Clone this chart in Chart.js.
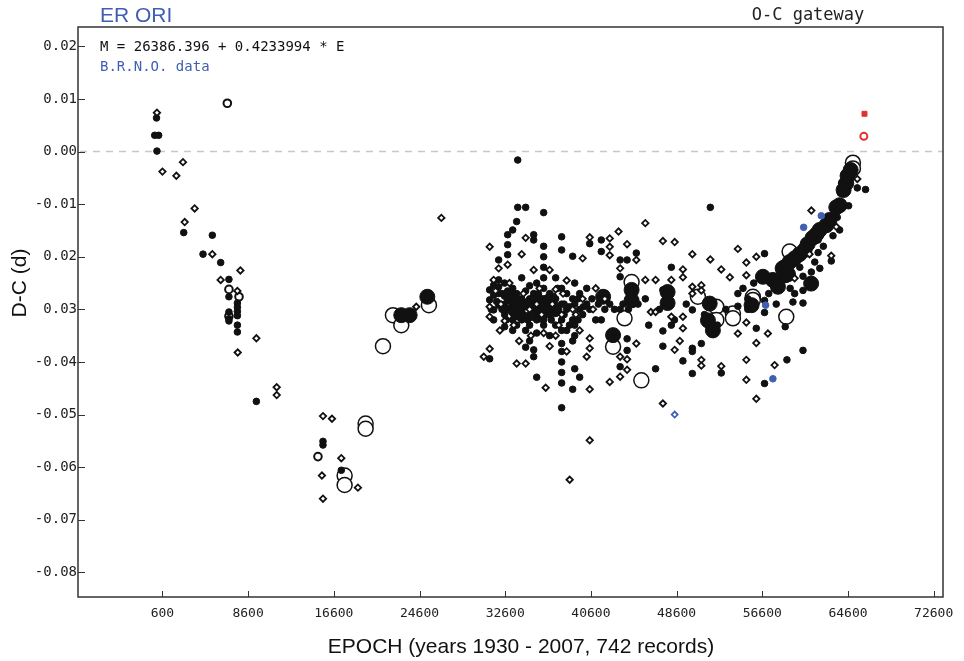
<!DOCTYPE html>
<html>
<head>
<meta charset="utf-8">
<title>ER ORI O-C</title>
<script src="https://cdn.jsdelivr.net/npm/chart.js@4.4.1/dist/chart.umd.min.js"></script>
<style>
  html, body { margin: 0; padding: 0; background: #fff; }
  #wrap { width: 964px; height: 661px; }
</style>
</head>
<body>
<div id="wrap"><canvas id="oc" width="964" height="661"></canvas></div>
<script>
// axis ticks, as printed on the reference
const xTickValues = [600, 8600, 16600, 24600, 32600, 40600, 48600, 56600, 64600, 72600];
const xTickLabels = ['600', '8600', '16600', '24600', '32600', '40600', '48600', '56600', '64600', '72600'];
const yTickValues = [0.02, 0.01, 0, -0.01, -0.02, -0.03, -0.04, -0.05, -0.06, -0.07, -0.08];
const yTickLabels = ['0.02', '0.01', '0.00', '-0.01', '0.02', '0.03', '-0.04', '-0.05', '-0.06', '-0.07', '-0.08'];

// [epoch, D-C] pairs
// small open diamonds
const visualPoints = [
    [90, 0.0074], [600, -0.0038], [1900, -0.0046], [2520, -0.0020], [3610, -0.0108], [2680, -0.0134],
    [5260, -0.0195], [7880, -0.0226], [6040, -0.0244], [7600, -0.0265], [9370, -0.0355], [7630, -0.0382],
    [11270, -0.0448], [11270, -0.0463], [15590, -0.0503], [16430, -0.0508], [17300, -0.0583], [15490, -0.0616],
    [18850, -0.0639], [15590, -0.0660], [26640, -0.0126], [24300, -0.0295],
    [31150, -0.0181], [31150, -0.0295], [31150, -0.0314], [31150, -0.0375], [30600, -0.0390], [31520, -0.0244],
    [31990, -0.0222], [32550, -0.0322], [32830, -0.0215], [33670, -0.0403], [34140, -0.0195], [34510, -0.0164],
    [34510, -0.0403], [34880, -0.0300], [35260, -0.0225], [35540, -0.0290], [36190, -0.0345], [36380, -0.0449],
    [36750, -0.0225], [36750, -0.0370], [37310, -0.0262], [37310, -0.0350], [37870, -0.0310], [38340, -0.0245],
    [38340, -0.0380], [38620, -0.0624], [38900, -0.0300], [39550, -0.0340], [39830, -0.0203], [39830, -0.0280],
    [40210, -0.0390], [40490, -0.0163], [40490, -0.0355], [40490, -0.0374], [40490, -0.0452], [40490, -0.0549],
    [41050, -0.0260], [41900, -0.0280], [42360, -0.0165], [42360, -0.0181], [42360, -0.0197], [42360, -0.0438],
    [43180, -0.0152], [43330, -0.0222], [43330, -0.0390], [43330, -0.0428], [43980, -0.0176], [43980, -0.0395],
    [43980, -0.0415], [44840, -0.0206], [44840, -0.0365], [45680, -0.0136], [45680, -0.0244], [46200, -0.0305],
    [46640, -0.0244], [46640, -0.0305], [47320, -0.0170], [47320, -0.0479], [48110, -0.0244], [48110, -0.0314],
    [48420, -0.0172], [48420, -0.0377], [48900, -0.0360], [49190, -0.0224], [49190, -0.0239], [49190, -0.0314],
    [49190, -0.0336], [50070, -0.0195], [50070, -0.0257], [50070, -0.0270], [50910, -0.0254], [50910, -0.0264],
    [50910, -0.0396], [50910, -0.0407], [51750, -0.0205], [52770, -0.0224], [52770, -0.0408], [53570, -0.0239],
    [54320, -0.0185], [54320, -0.0346], [55110, -0.0211], [55110, -0.0235], [55110, -0.0325], [55110, -0.0396],
    [55110, -0.0434], [56040, -0.0200], [56040, -0.0364], [56040, -0.0470], [57120, -0.0346], [57750, -0.0406],
    [59620, -0.0241], [61010, -0.0195], [61180, -0.0112], [63040, -0.0198], [63510, -0.0143], [65470, -0.0052],
    [32200, -0.0290], [33000, -0.0250], [33400, -0.0330], [34300, -0.0270], [35000, -0.0350], [35800, -0.0260],
    [36000, -0.0310], [37000, -0.0290], [37600, -0.0330], [38000, -0.0270], [39200, -0.0310], [40800, -0.0300],
    [32100, -0.0340], [33900, -0.0360], [31700, -0.0265]
];
// small filled marks
const filledPoints = [
    [50, 0.0064], [-120, 0.0031], [250, 0.0031], [90, 0.0001], [2590, -0.0154], [5260, -0.0159], [4390, -0.0195],
    [6040, -0.0211], [6810, -0.0243], [6810, -0.0276], [6810, -0.0305], [6810, -0.0318], [6810, -0.0322],
    [7600, -0.0288], [7600, -0.0296], [7600, -0.0304], [7600, -0.0312], [7600, -0.0330], [7600, -0.0343],
    [9370, -0.0475], [15590, -0.0551], [15590, -0.0558], [17300, -0.0606],
    [31150, -0.0263], [31150, -0.0282], [31150, -0.0394], [31520, -0.0254], [31520, -0.0273], [31520, -0.0301],
    [31520, -0.0320], [31990, -0.0206], [31990, -0.0244], [31990, -0.0257], [31990, -0.0270], [31990, -0.0292],
    [32550, -0.0333], [32550, -0.0275], [32550, -0.0290], [32550, -0.0310], [32550, -0.0250], [32830, -0.0158],
    [32830, -0.0177], [32830, -0.0196], [32830, -0.0283], [32830, -0.0300], [32830, -0.0265], [33300, -0.0149],
    [33300, -0.0260], [33300, -0.0290], [33300, -0.0320], [33300, -0.0305], [33300, -0.0340], [33670, -0.0133],
    [33670, -0.0270], [33670, -0.0285], [33670, -0.0310], [33670, -0.0330], [33770, -0.0016], [33770, -0.0106],
    [34140, -0.0240], [34140, -0.0300], [34140, -0.0320], [34140, -0.0280], [34510, -0.0106], [34510, -0.0372],
    [34510, -0.0265], [34510, -0.0295], [34510, -0.0340], [34880, -0.0280], [34880, -0.0310], [34880, -0.0255],
    [34880, -0.0330], [34880, -0.0360], [35260, -0.0158], [35260, -0.0168], [35260, -0.0377], [35260, -0.0390],
    [35260, -0.0270], [35260, -0.0300], [35540, -0.0429], [35540, -0.0250], [35540, -0.0320], [35540, -0.0345],
    [36190, -0.0116], [36190, -0.0180], [36190, -0.0200], [36190, -0.0220], [36190, -0.0240], [36190, -0.0260],
    [36190, -0.0280], [36190, -0.0300], [36190, -0.0320], [36190, -0.0330], [36750, -0.0270], [36750, -0.0310],
    [36750, -0.0350], [36750, -0.0290], [37310, -0.0240], [37310, -0.0300], [37310, -0.0280], [37310, -0.0330],
    [37870, -0.0162], [37870, -0.0187], [37870, -0.0365], [37870, -0.0380], [37870, -0.0400], [37870, -0.0420],
    [37870, -0.0440], [37870, -0.0487], [37870, -0.0260], [37870, -0.0290], [37870, -0.0320], [37870, -0.0340],
    [38340, -0.0270], [38340, -0.0300], [38340, -0.0340], [38900, -0.0199], [38900, -0.0452], [38900, -0.0280],
    [38900, -0.0320], [38900, -0.0360], [39090, -0.0413], [39090, -0.0250], [39090, -0.0290], [39090, -0.0330],
    [39090, -0.0350], [39550, -0.0429], [39550, -0.0300], [39550, -0.0270], [39830, -0.0310], [40210, -0.0290],
    [40210, -0.0260], [40490, -0.0175], [40490, -0.0300], [41050, -0.0320], [41570, -0.0168], [41570, -0.0190],
    [41570, -0.0320], [41900, -0.0300], [42360, -0.0290], [43330, -0.0206], [43330, -0.0238], [43330, -0.0409],
    [43330, -0.0300], [43980, -0.0206], [43980, -0.0356], [43980, -0.0378], [44840, -0.0193], [45680, -0.0280],
    [46640, -0.0413], [47320, -0.0263], [47320, -0.0341], [47320, -0.0370], [48110, -0.0220], [48110, -0.0330],
    [49190, -0.0398], [50070, -0.0301], [50070, -0.0374], [50070, -0.0380], [50070, -0.0422], [50910, -0.0365],
    [51750, -0.0106], [52770, -0.0421], [54320, -0.0270], [54320, -0.0294], [55250, -0.0280], [55250, -0.0300],
    [56040, -0.0336], [56810, -0.0194], [56810, -0.0283], [56810, -0.0306], [56810, -0.0441], [58500, -0.0213],
    [58500, -0.0230], [58500, -0.0244], [58740, -0.0333], [58900, -0.0396], [59460, -0.0286], [59620, -0.0270],
    [59780, -0.0200], [60400, -0.0237], [60400, -0.0264], [60400, -0.0288], [60400, -0.0378], [60710, -0.0181],
    [61180, -0.0229], [61180, -0.0159], [61810, -0.0192], [61810, -0.0168], [61970, -0.0222], [63040, -0.0208],
    [63820, -0.0149], [64660, -0.0103], [65470, -0.0069], [66240, -0.0072], [64240, -0.0044], [64000, -0.0060],
    [63900, -0.0079],
    [31300, -0.0300], [31800, -0.0285], [32300, -0.0270], [32300, -0.0300], [32700, -0.0320], [33100, -0.0275],
    [33500, -0.0295], [33900, -0.0290], [33900, -0.0315], [34300, -0.0290], [34300, -0.0310], [34700, -0.0285],
    [34700, -0.0320], [35100, -0.0290], [35100, -0.0315], [35400, -0.0280], [35700, -0.0300], [35700, -0.0270],
    [36000, -0.0285], [36000, -0.0295], [36500, -0.0280], [36500, -0.0300], [36900, -0.0320], [37100, -0.0275],
    [37500, -0.0300], [37500, -0.0260], [38100, -0.0290], [38100, -0.0310], [38600, -0.0295], [38600, -0.0330],
    [39400, -0.0280], [39400, -0.0320], [39900, -0.0295], [40700, -0.0280], [41300, -0.0290], [42000, -0.0270],
    [42800, -0.0300], [43600, -0.0290], [44100, -0.0300], [45000, -0.0290], [46000, -0.0330], [47000, -0.0300],
    [48400, -0.0320], [49500, -0.0290], [51200, -0.0310], [52400, -0.0330], [53200, -0.0300], [54800, -0.0260],
    [55800, -0.0250], [57200, -0.0270], [57900, -0.0290], [59200, -0.0260], [60100, -0.0220], [61500, -0.0210],
    [62300, -0.0180], [63200, -0.0160], [63600, -0.0125]
];
// big filled circles
const bigFilledPoints = [
    [22900, -0.0311], [23680, -0.0311], [25330, -0.0276], [33200, -0.0277], [33700, -0.0305], [35500, -0.0282],
    [36300, -0.0295], [35900, -0.0310], [41740, -0.0276], [42670, -0.0349], [44400, -0.0263], [44400, -0.0283],
    [47760, -0.0267], [47760, -0.0288], [51690, -0.0289], [51530, -0.0321], [51990, -0.0340], [55600, -0.0292],
    [56660, -0.0238], [57590, -0.0244], [58060, -0.0257], [58500, -0.0222], [58780, -0.0235], [59150, -0.0210],
    [59620, -0.0203], [60080, -0.0195], [60550, -0.0187], [60830, -0.0176], [61300, -0.0164], [61670, -0.0157],
    [61950, -0.0149], [62580, -0.0140], [62880, -0.0130], [63510, -0.0106], [63820, -0.0102], [64190, -0.0073],
    [64440, -0.0060], [64560, -0.0046], [64850, -0.0035], [61160, -0.0251], [59000, -0.0233],
    [33500, -0.0300], [36700, -0.0285], [37200, -0.0300]
];
// big open circles
const bigOpenPoints = [
    [22120, -0.0311], [22900, -0.0330], [25480, -0.0292], [21190, -0.0370], [19570, -0.0517], [19570, -0.0527],
    [17610, -0.0616], [17610, -0.0634], [43740, -0.0317], [42670, -0.0371], [44400, -0.0248], [45310, -0.0435],
    [50590, -0.0276], [52310, -0.0295], [52310, -0.0320], [53860, -0.0308], [55720, -0.0276], [55720, -0.0282],
    [53860, -0.0317], [58840, -0.0314], [59150, -0.0190], [65060, -0.0021], [65060, -0.0032]
];
// small open circles
const ringPoints = [[6660, 0.0092], [6810, -0.0262], [7750, -0.0276], [15120, -0.0580], [6810, -0.0313]];
// B.R.N.O. data
const brnoFilled = [[62110, -0.0122], [60460, -0.0144], [56910, -0.0292], [57590, -0.0432]];
const brnoOpen = [[48420, -0.0500]];
// newest minima (red)
const redFilled = [[66140, 0.0072]];
const redOpen = [[66080, 0.0029]];

const ink = '#111111';
const brnoBlue = '#3f5fb4';
const red = '#e03030';

function toXY(list) {
    return list.map(p => ({ x: p[0], y: p[1] }));
}

function series(list, style, radius, fill, border, width) {
    return {
        data: toXY(list),
        pointStyle: style,
        pointRadius: radius,
        pointBackgroundColor: fill,
        pointBorderColor: border,
        pointBorderWidth: width,
        showLine: false
    };
}

// frame, ticks, dashed zero line and the texts
const decorations = {
    id: 'decorations',
    beforeDatasetsDraw(chart) {
        const ctx = chart.ctx;
        const area = chart.chartArea;
        const y0 = chart.scales.y.getPixelForValue(0);
        ctx.save();
        ctx.strokeStyle = '#c8c8c8';
        ctx.lineWidth = 1.5;
        ctx.setLineDash([7, 6]);
        ctx.beginPath();
        ctx.moveTo(area.left + 2, y0);
        ctx.lineTo(area.right, y0);
        ctx.stroke();
        ctx.restore();
    },
    afterDraw(chart) {
        const ctx = chart.ctx;
        const area = chart.chartArea;
        const xs = chart.scales.x;
        const ys = chart.scales.y;
        ctx.save();
        ctx.strokeStyle = '#333';
        ctx.lineWidth = 1.5;
        ctx.strokeRect(area.left, area.top, area.right - area.left, area.bottom - area.top);
        ctx.beginPath();
        xTickValues.forEach(v => {
            const px = Math.round(xs.getPixelForValue(v)) + 0.5;
            ctx.moveTo(px, area.bottom);
            ctx.lineTo(px, area.bottom - 6);
        });
        yTickValues.forEach(v => {
            const py = Math.round(ys.getPixelForValue(v)) + 0.5;
            ctx.moveTo(area.left, py);
            ctx.lineTo(area.left + 7, py);
        });
        ctx.lineWidth = 1;
        ctx.stroke();

        ctx.textBaseline = 'alphabetic';
        ctx.fillStyle = brnoBlue;
        ctx.font = '21px "Liberation Sans", Arial, sans-serif';
        ctx.textAlign = 'left';
        ctx.fillText('ER ORI', 100, 22);

        ctx.fillStyle = '#222';
        ctx.font = '17px "DejaVu Sans Mono", monospace';
        ctx.textAlign = 'center';
        ctx.fillText('O-C gateway', 808, 20);

        ctx.textAlign = 'left';
        ctx.font = '14px "DejaVu Sans Mono", monospace';
        ctx.fillStyle = ink;
        ctx.fillText('M = 26386.396 + 0.4233994 * E', 100, 51);
        ctx.fillStyle = brnoBlue;
        ctx.fillText('B.R.N.O. data', 100, 71);

        ctx.fillStyle = ink;
        ctx.font = '21px "Liberation Sans", Arial, sans-serif';
        ctx.textAlign = 'center';
        ctx.fillText('EPOCH (years 1930 - 2007, 742 records)', 521, 653);

        ctx.translate(26, 283);
        ctx.rotate(-Math.PI / 2);
        ctx.fillText('D-C (d)', 0, 0);
        ctx.restore();
    }
};

const tickFont = { family: '"DejaVu Sans Mono", monospace', size: 14 };

new Chart(document.getElementById('oc'), {
    type: 'scatter',
    data: {
        datasets: [
            series(redFilled, 'rect', 3.5, red, red, 1),
            series(redOpen, 'circle', 3.5, '#fff', red, 2),
            series(brnoOpen, 'rectRot', 3, '#fff', brnoBlue, 1.8),
            series(brnoFilled, 'circle', 3.3, brnoBlue, brnoBlue, 1),
            series(visualPoints, 'rectRot', 3.2, '#fff', ink, 1.8),
            series(filledPoints, 'circle', 3.3, ink, ink, 1),
            series(ringPoints, 'circle', 3.8, '#fff', ink, 2),
            series(bigFilledPoints, 'circle', 7.5, ink, ink, 1),
            series(bigOpenPoints, 'circle', 7.5, '#fff', ink, 1.5)
        ]
    },
    options: {
        responsive: false,
        animation: false,
        events: [],
        layout: { padding: { left: 0, right: 21, top: 27, bottom: 0 } },
        plugins: {
            legend: { display: false },
            tooltip: { enabled: false }
        },
        scales: {
            x: {
                type: 'linear',
                min: -7280,
                max: 73470,
                afterFit(scale) { scale.height = 64; },
                afterBuildTicks(scale) { scale.ticks = xTickValues.map(v => ({ value: v })); },
                grid: { display: false, drawTicks: false },
                border: { display: false },
                ticks: {
                    autoSkip: false,
                    maxRotation: 0,
                    padding: 9,
                    color: '#222',
                    font: { family: tickFont.family, size: 13 },
                    callback: (value, index) => xTickLabels[index]
                }
            },
            y: {
                type: 'linear',
                min: -0.0847,
                max: 0.0237,
                afterFit(scale) { scale.width = 78; },
                afterBuildTicks(scale) { scale.ticks = yTickValues.map(v => ({ value: v })); },
                grid: { display: false, drawTicks: false },
                border: { display: false },
                ticks: {
                    autoSkip: false,
                    padding: 1,
                    color: '#222',
                    font: tickFont,
                    callback: (value, index) => yTickLabels[index]
                }
            }
        }
    },
    plugins: [decorations]
});
</script>
</body>
</html>
